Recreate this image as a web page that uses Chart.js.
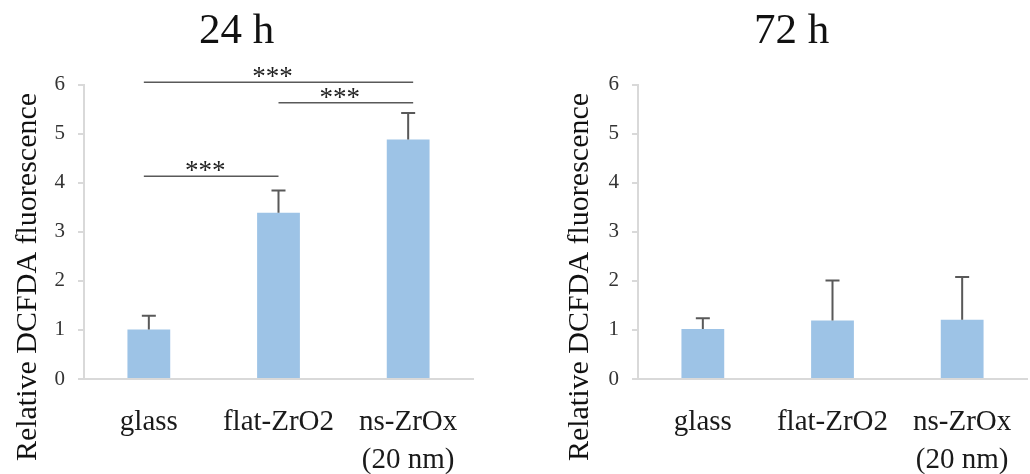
<!DOCTYPE html>
<html>
<head>
<meta charset="utf-8">
<script src="https://cdn.jsdelivr.net/npm/chart.js@4.4.1/dist/chart.umd.min.js"></script>
<style>
  html, body { margin: 0; padding: 0; background: #fff; }
  body { width: 1030px; height: 474px; position: relative; overflow: hidden; }
  .panel { position: absolute; top: 0; width: 474px; height: 474px; }
  #p24 { left: 0; }
  #p72 { left: 556px; }
</style>
</head>
<body>
<div class="panel" id="p24"><canvas id="chart24"></canvas></div>
<div class="panel" id="p72"><canvas id="chart72"></canvas></div>
<script>
// data
const categories = ['glass', 'flat-ZrO2', ['ns-ZrOx', '(20 nm)']];
const yTicks = [0, 1, 2, 3, 4, 5, 6];

const mean24 = [1.01, 3.39, 4.88];
const sd24 = [0.28, 0.45, 0.54];
const mean72 = [1.02, 1.19, 1.21];
const sd72 = [0.22, 0.82, 0.87];

// significance brackets (24 h only)
const sigFrom24 = [0, 1, 0];
const sigTo24 = [2, 2, 1];
const sigLevel24 = [6.05, 5.63, 4.13];
const sigLabel24 = ['***', '***', '***'];

const serif = "'Liberation Serif', 'Times New Roman', serif";
const barColor = '#9dc3e6';
const axisColor = '#d9d9d9';
const inkColor = '#595959';

// error bars, up only
const errorBars = {
    id: 'errorBars',
    afterDatasetsDraw(chart, args, opts) {
        const ctx = chart.ctx;
        const y = chart.scales.y;
        const vals = chart.data.datasets[0].data;
        ctx.save();
        ctx.strokeStyle = inkColor;
        ctx.lineWidth = 2;
        chart.getDatasetMeta(0).data.forEach((bar, i) => {
            const top = y.getPixelForValue(vals[i] + opts.sd[i]);
            ctx.beginPath();
            ctx.moveTo(bar.x, bar.y);
            ctx.lineTo(bar.x, top);
            ctx.moveTo(bar.x - 7, top);
            ctx.lineTo(bar.x + 7, top);
            ctx.stroke();
        });
        ctx.restore();
    }
};

// brackets with stars
const sigBrackets = {
    id: 'sigBrackets',
    afterDraw(chart, args, opts) {
        if (!opts.from) return;
        const ctx = chart.ctx;
        const x = chart.scales.x, y = chart.scales.y;
        const last = chart.data.labels.length - 1;
        ctx.save();
        opts.from.forEach((f, i) => {
            const t = opts.to[i];
            let x1 = x.getPixelForValue(f), x2 = x.getPixelForValue(t);
            if (f === 0) x1 -= 5;
            if (t === last) x2 += 5;
            const yy = y.getPixelForValue(opts.level[i]);
            ctx.strokeStyle = inkColor;
            ctx.lineWidth = 1.5;
            ctx.beginPath();
            ctx.moveTo(x1, yy);
            ctx.lineTo(x2, yy);
            ctx.stroke();
            ctx.fillStyle = '#222';
            ctx.font = '27px ' + serif;
            ctx.textAlign = 'center';
            ctx.textBaseline = 'alphabetic';
            ctx.fillText(opts.label[i], (x1 + x2) / 2 - 6, yy + 3);
        });
        ctx.restore();
    }
};

// rotated y-axis title, placed a bit lower than the plot centre as in the original
const yTitle = {
    id: 'yTitle',
    afterDraw(chart, args, opts) {
        const ctx = chart.ctx;
        ctx.save();
        ctx.translate(opts.x, opts.y);
        ctx.rotate(-Math.PI / 2);
        ctx.font = '30px ' + serif;
        ctx.fillStyle = '#111';
        ctx.textAlign = 'center';
        ctx.textBaseline = 'middle';
        ctx.fillText(opts.text, 0, 0);
        ctx.restore();
    }
};

function makeChart(id, title, means, sds, axisWidth, padRight, titleX, sig) {
    return new Chart(document.getElementById(id), {
        type: 'bar',
        data: {
            labels: categories,
            datasets: [{
                data: means,
                backgroundColor: barColor,
                borderWidth: 0,
                barPercentage: 0.33,
                categoryPercentage: 1
            }]
        },
        options: {
            responsive: true,
            maintainAspectRatio: false,
            animation: false,
            layout: { padding: { left: 0, right: padRight, top: 0, bottom: 0 } },
            plugins: {
                legend: { display: false },
                tooltip: { enabled: false },
                title: {
                    display: true,
                    text: title,
                    color: '#111',
                    font: { family: serif, size: 43, weight: 'normal', lineHeight: 1.2 },
                    padding: { top: 6, bottom: 27 }
                },
                errorBars: { sd: sds },
                sigBrackets: sig,
                yTitle: { text: 'Relative DCFDA fluorescence', x: titleX, y: 277 }
            },
            scales: {
                x: {
                    // invisible tick length stands in for the label gap
                    grid: { display: false, drawTicks: true, tickLength: 25 },
                    border: { display: true, color: axisColor, width: 2 },
                    ticks: {
                        color: '#1a1a1a',
                        padding: 0,
                        maxRotation: 0,
                        autoSkip: false,
                        font: { family: serif, size: 29, lineHeight: 1.3 }
                    },
                    afterFit(scale) { scale.height = 95; }
                },
                y: {
                    min: 0,
                    max: 6,
                    afterBuildTicks(scale) { scale.ticks = yTicks.map(v => ({ value: v })); },
                    grid: {
                        drawOnChartArea: false,
                        drawTicks: true,
                        tickLength: 6,
                        color: axisColor,
                        lineWidth: 2
                    },
                    border: { display: true, color: axisColor, width: 2 },
                    ticks: {
                        color: '#333',
                        padding: 13,
                        font: { family: serif, size: 21 }
                    },
                    afterFit(scale) { scale.width = axisWidth; }
                }
            }
        },
        plugins: [errorBars, sigBrackets, yTitle]
    });
}

makeChart('chart24', '24 h', mean24, sd24, 84, 1, 28,
    { from: sigFrom24, to: sigTo24, level: sigLevel24, label: sigLabel24 });
makeChart('chart72', '72 h', mean72, sd72, 82, 3, 24, {});
</script>
</body>
</html>
